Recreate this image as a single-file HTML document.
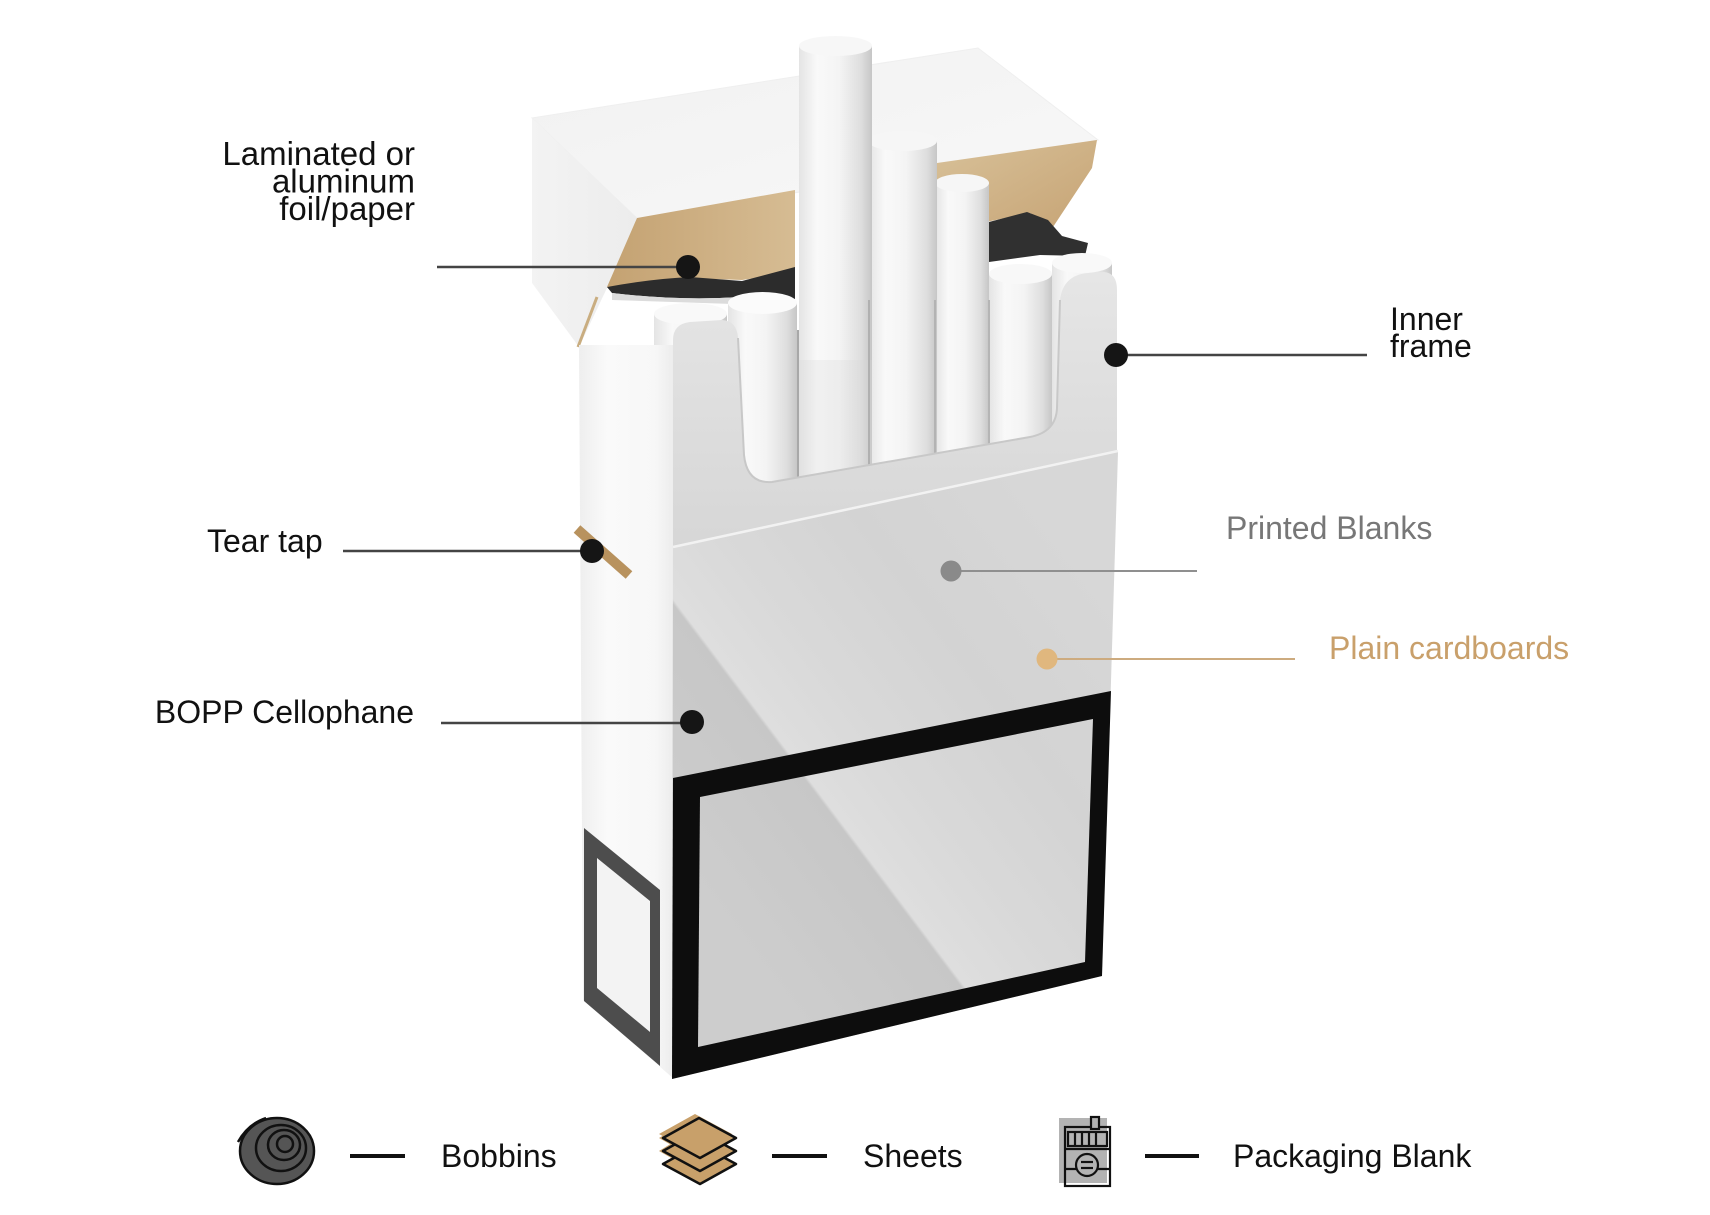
<!DOCTYPE html>
<html>
<head>
<meta charset="utf-8">
<style>
html,body{margin:0;padding:0;background:#fff;}
body{width:1710px;height:1215px;overflow:hidden;}
svg{display:block;}
text{font-family:"Liberation Sans",Arial,sans-serif;}
</style>
</head>
<body>
<svg width="1710" height="1215" viewBox="0 0 1710 1215" xmlns="http://www.w3.org/2000/svg">
<defs>
  <linearGradient id="cig" x1="0" y1="0" x2="1" y2="0">
    <stop offset="0" stop-color="#e4e4e4"/>
    <stop offset="0.25" stop-color="#f9f9f9"/>
    <stop offset="0.55" stop-color="#f4f4f4"/>
    <stop offset="0.85" stop-color="#dedede"/>
    <stop offset="1" stop-color="#c6c6c6"/>
  </linearGradient>
  <linearGradient id="frameG" x1="0" y1="0" x2="0" y2="1">
    <stop offset="0" stop-color="#e6e6e6"/>
    <stop offset="0.6" stop-color="#dcdcdc"/>
    <stop offset="1" stop-color="#d6d6d6"/>
  </linearGradient>
  <linearGradient id="front" gradientUnits="userSpaceOnUse" x1="580" y1="730" x2="980" y2="429">
    <stop offset="0" stop-color="#cdcdcd"/>
    <stop offset="0.30" stop-color="#c7c7c7"/>
    <stop offset="0.306" stop-color="#dedede"/>
    <stop offset="0.45" stop-color="#d9d9d9"/>
    <stop offset="0.7" stop-color="#d3d3d3"/>
    <stop offset="1" stop-color="#d7d7d7"/>
  </linearGradient>
  <linearGradient id="side" x1="0" y1="0" x2="1" y2="0">
    <stop offset="0" stop-color="#eeeeee"/>
    <stop offset="0.3" stop-color="#fafafa"/>
    <stop offset="0.8" stop-color="#f7f7f7"/>
    <stop offset="1" stop-color="#ececec"/>
  </linearGradient>
  <linearGradient id="lidTop" x1="0" y1="0" x2="1" y2="1">
    <stop offset="0" stop-color="#f1f1f1"/>
    <stop offset="1" stop-color="#f8f8f8"/>
  </linearGradient>
  <linearGradient id="lidSide" x1="0" y1="0" x2="1" y2="0">
    <stop offset="0" stop-color="#f3f3f3"/>
    <stop offset="1" stop-color="#ececec"/>
  </linearGradient>
  <linearGradient id="tanL" x1="0" y1="0" x2="1" y2="0">
    <stop offset="0" stop-color="#c4a272"/>
    <stop offset="1" stop-color="#d6bc93"/>
  </linearGradient>
  <linearGradient id="tanR" x1="0" y1="0" x2="1" y2="1">
    <stop offset="0" stop-color="#d8c199"/>
    <stop offset="1" stop-color="#c6a374"/>
  </linearGradient>
</defs>

<!-- ===== LID ===== -->
<polygon points="532,118 978,48 1098,140 639,220" fill="url(#lidTop)" stroke="#efefef" stroke-width="1"/>
<polygon points="532,118 639,220 607,288 579,347 532,283" fill="url(#lidSide)"/>
<polygon points="637,218 795,190 795,272 742,280 685,278 607,287" fill="url(#tanL)"/>
<path d="M607,287 Q650,279 690,277 L742,281 L795,267 L795,299 L740,297 Q680,301 612,293 Z" fill="#2c2c2c"/>
<path d="M612,293 Q680,301 740,297 L795,299 L795,306 L612,300 Z" fill="#dcdcdc"/>
<polygon points="937,163 1097,140 1092,168 1053,227 1030,213 937,232" fill="url(#tanR)"/>
<polygon points="989,222 1027,212 1048,220 1062,236 1088,243 1085,256 1040,255 989,262" fill="#303030"/>
<line x1="597" y1="297" x2="578" y2="347" stroke="#c9ad80" stroke-width="3"/>

<!-- ===== CIGARETTES ===== -->
<g>
  <rect x="654" y="314" width="73" height="180" fill="url(#cig)"/>
  <ellipse cx="690.5" cy="314" rx="36.5" ry="11" fill="#f9f9f9"/>
  <rect x="1052" y="263" width="60" height="180" fill="url(#cig)"/>
  <ellipse cx="1082" cy="263" rx="30" ry="10" fill="#f9f9f9"/>
  <rect x="989" y="274" width="63" height="180" fill="url(#cig)"/>
  <ellipse cx="1020.5" cy="274" rx="31.5" ry="10" fill="#f8f8f8"/>
  <rect x="935" y="183" width="54" height="280" fill="url(#cig)"/>
  <ellipse cx="962" cy="183" rx="27" ry="9" fill="#f6f6f6"/>
  <rect x="868" y="141" width="69" height="330" fill="url(#cig)"/>
  <ellipse cx="902.5" cy="141" rx="34.5" ry="10" fill="#f6f6f6"/>
  <rect x="728" y="303" width="69" height="190" fill="url(#cig)"/>
  <ellipse cx="762.5" cy="303" rx="34.5" ry="11" fill="#fbfbfb"/>
  <rect x="799" y="46" width="73" height="440" fill="url(#cig)"/>
  <ellipse cx="835.5" cy="46" rx="36.5" ry="10" fill="#f7f7f7"/>
  <rect x="799" y="360" width="73" height="126" fill="#d8d8d8" opacity="0.25"/>
  <line x1="798" y1="330" x2="798" y2="490" stroke="#a8a8a8" stroke-width="2"/>
  <line x1="869" y1="300" x2="869" y2="480" stroke="#b0b0b0" stroke-width="2"/>
  <line x1="935" y1="300" x2="935" y2="470" stroke="#b3b3b3" stroke-width="2"/>
  <line x1="989" y1="300" x2="989" y2="460" stroke="#b5b5b5" stroke-width="2"/>
</g>

<!-- ===== LEFT SIDE FACE ===== -->
<polygon points="579,345 674,345 674,1079 583,1000" fill="url(#side)"/>
<polygon points="584,828 660,890 660,1066 584,1001" fill="#4d4d4d"/>
<polygon points="597,858 650,901 650,1032 597,988" fill="#f3f3f3"/>
<line x1="577" y1="529" x2="629" y2="575" stroke="#b8925e" stroke-width="10"/>

<!-- ===== INNER FRAME ===== -->
<path d="M673,340 Q673,324 690,322 L722,320 Q737,321 738,338 L744,455 Q747,484 772,482 L1030,437 Q1056,432 1057,408 L1060,300 Q1063,275 1088,273 L1104,272 Q1117,273 1117,290 L1117,460 L673,555 Z" fill="url(#frameG)"/>
<path d="M738,338 L744,455 Q747,484 772,482 L1030,437 Q1056,432 1057,408 L1060,300" fill="none" stroke="#c8c8c8" stroke-width="2"/>

<!-- ===== FRONT FACE ===== -->
<polygon points="673,548 1118,452 1102,976 672,1079" fill="url(#front)"/>
<line x1="673" y1="547" x2="1118" y2="451" stroke="#f2f2f2" stroke-width="2.5"/>
<polygon points="673,778 1111,691 1102,976 672,1079" fill="#0d0d0d"/>
<polygon points="700,797 1093,719 1085,962 698,1047" fill="url(#front)"/>

<!-- ===== CONNECTORS ===== -->
<g stroke-width="2.5">
  <line x1="437" y1="267" x2="688" y2="267" stroke="#444"/>
  <line x1="343" y1="551" x2="592" y2="551" stroke="#444"/>
  <line x1="441" y1="723" x2="692" y2="723" stroke="#444"/>
  <line x1="1116" y1="355" x2="1367" y2="355" stroke="#444"/>
  <line x1="951" y1="571" x2="1197" y2="571" stroke="#8f8f8f" stroke-width="2"/>
  <line x1="1047" y1="659" x2="1295" y2="659" stroke="#cdab7f" stroke-width="2"/>
</g>
<circle cx="688" cy="267" r="12" fill="#151515"/>
<circle cx="592" cy="551" r="12" fill="#151515"/>
<circle cx="692" cy="722" r="12" fill="#151515"/>
<circle cx="1116" cy="355" r="12" fill="#151515"/>
<circle cx="951" cy="571" r="10.5" fill="#8a8a8a"/>
<circle cx="1047" cy="659" r="10.5" fill="#e0b77e"/>

<!-- ===== LABELS ===== -->
<g font-size="32" fill="#111">
  <text x="415" y="165" text-anchor="end" font-size="33">Laminated or</text>
  <text x="415" y="192.5" text-anchor="end" font-size="33">aluminum</text>
  <text x="415" y="220" text-anchor="end" font-size="33">foil/paper</text>
  <text x="207" y="552">Tear tap</text>
  <text x="414" y="723" text-anchor="end">BOPP Cellophane</text>
  <text x="1390" y="330">Inner</text>
  <text x="1390" y="357">frame</text>
  <text x="1226" y="539" fill="#777">Printed Blanks</text>
  <text x="1329" y="659" fill="#c9a06b">Plain cardboards</text>
</g>

<!-- ===== LEGEND ===== -->
<g>
  <path d="M238,1142 Q248,1124 266,1118" fill="none" stroke="#111" stroke-width="2.5"/>
  <ellipse cx="277" cy="1151" rx="37" ry="33" fill="#555" stroke="#111" stroke-width="2.5"/>
  <ellipse cx="281" cy="1148" rx="25" ry="23" fill="none" stroke="#111" stroke-width="2.5"/>
  <ellipse cx="284" cy="1145" rx="16" ry="15" fill="none" stroke="#111" stroke-width="2.5"/>
  <ellipse cx="285" cy="1144" rx="8" ry="8" fill="none" stroke="#111" stroke-width="2.5"/>
</g>
<line x1="350" y1="1156" x2="405" y2="1156" stroke="#111" stroke-width="4"/>
<text x="441" y="1167" font-size="32" fill="#111">Bobbins</text>

<g stroke="#111" stroke-width="2.5" stroke-linejoin="round">
  <polygon points="695,1129 732,1151 696,1172 659,1151" fill="#c8a06a" stroke="none"/>
  <polygon points="699,1144 736,1164 700,1184 663,1164" fill="#c8a06a"/>
  <polygon points="695,1117 732,1138 696,1159 659,1138" fill="#c8a06a" stroke="none"/>
  <polygon points="699,1131 736,1151 700,1171 663,1151" fill="#c8a06a"/>
  <polygon points="695,1114 732,1134 696,1154 659,1134" fill="#c8a06a" stroke="none"/>
  <polygon points="699,1118 736,1138 700,1158 663,1138" fill="#c8a06a"/>
</g>
<line x1="772" y1="1156" x2="827" y2="1156" stroke="#111" stroke-width="4"/>
<text x="863" y="1167" font-size="32" fill="#111">Sheets</text>

<g stroke="#111" stroke-width="2.2" fill="none">
  <rect x="1059" y="1118" width="48" height="65" fill="#b3b3b3" stroke="none"/>
  <rect x="1065" y="1127" width="45" height="59"/>
  <rect x="1091" y="1117" width="8" height="12" fill="#b3b3b3"/>
  <rect x="1068" y="1132" width="39" height="14"/>
  <line x1="1075" y1="1132" x2="1075" y2="1146"/>
  <line x1="1082" y1="1132" x2="1082" y2="1146"/>
  <line x1="1089" y1="1132" x2="1089" y2="1146"/>
  <line x1="1096" y1="1132" x2="1096" y2="1146"/>
  <line x1="1065" y1="1149" x2="1110" y2="1149"/>
  <line x1="1065" y1="1169" x2="1110" y2="1169"/>
  <circle cx="1087" cy="1165" r="11" fill="#b3b3b3"/>
  <line x1="1081" y1="1162" x2="1093" y2="1162"/>
  <line x1="1081" y1="1168" x2="1093" y2="1168"/>
</g>
<line x1="1145" y1="1156" x2="1199" y2="1156" stroke="#111" stroke-width="4"/>
<text x="1233" y="1167" font-size="32" fill="#111">Packaging Blank</text>
</svg>
</body>
</html>
